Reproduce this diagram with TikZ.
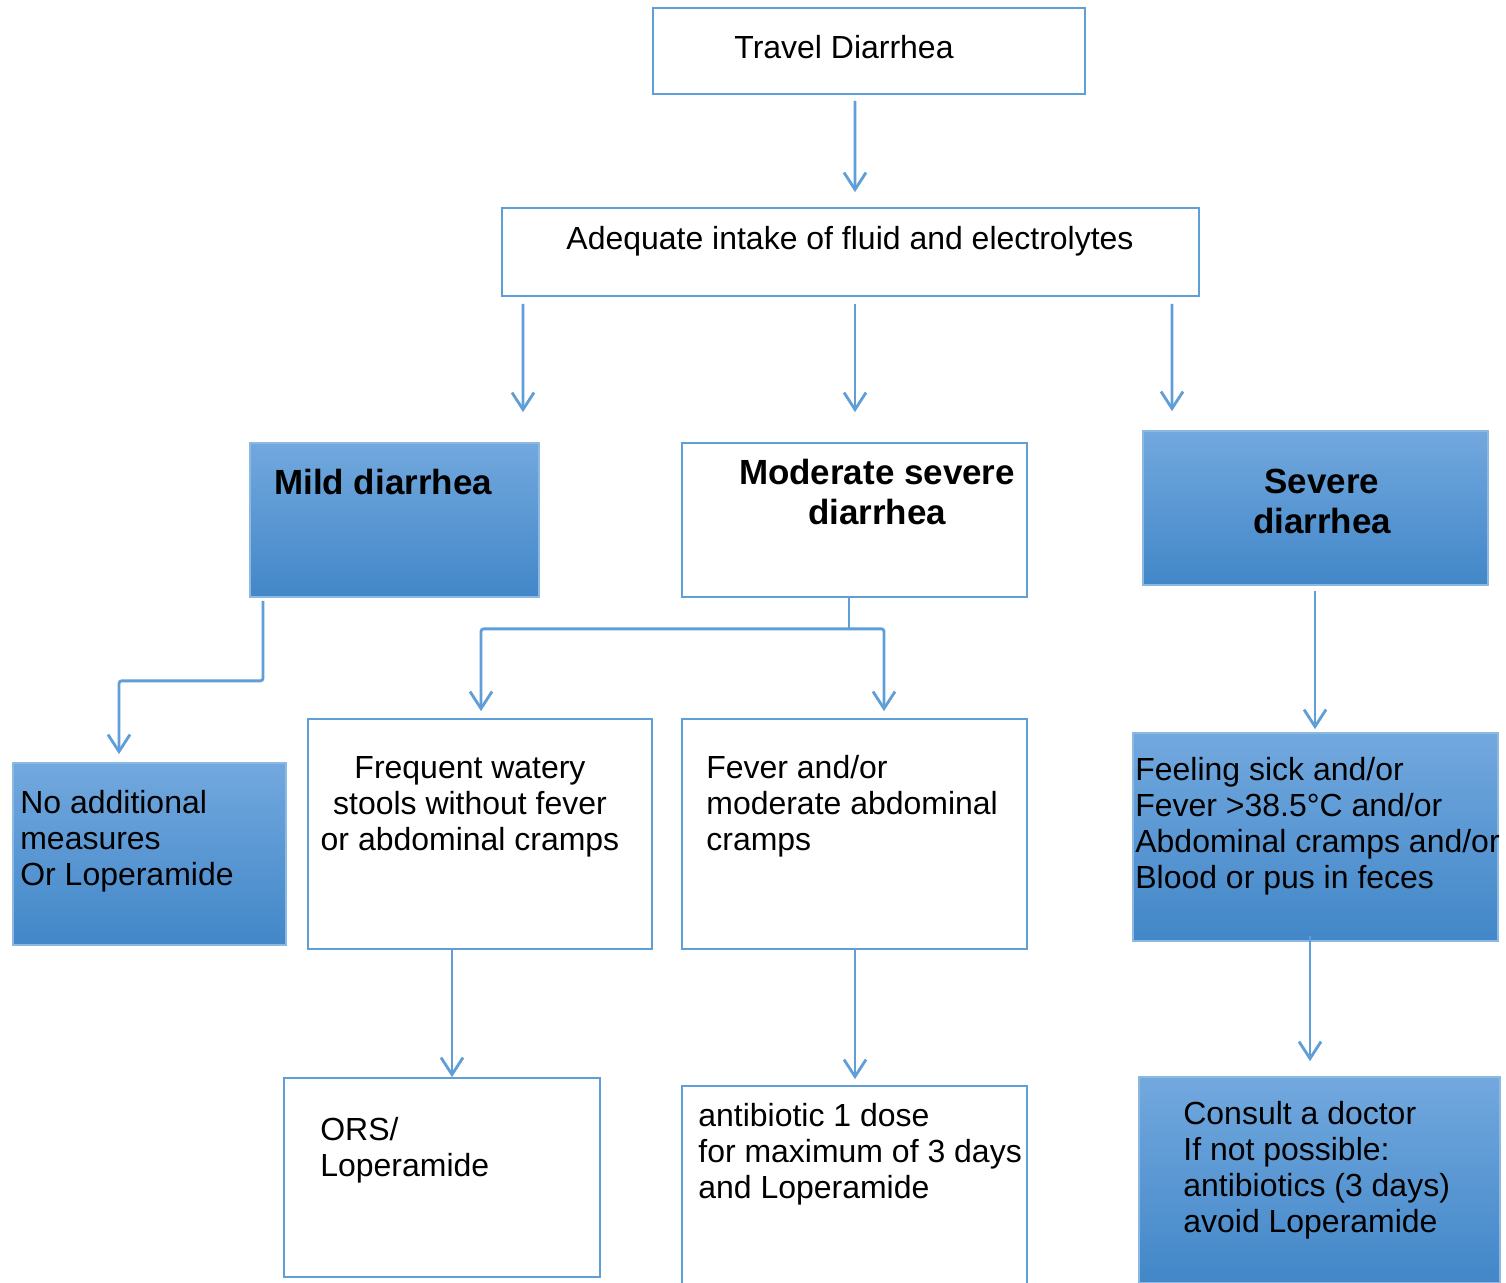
\documentclass[tikz,border=0pt]{standalone}
\usepackage{fontspec}
\setmainfont{Liberation Sans}
\usetikzlibrary{arrows.meta,calc}
\definecolor{lnblue}{RGB}{96,158,215}
\definecolor{bxtop}{RGB}{114,168,222}
\definecolor{bxbot}{RGB}{66,135,200}
\definecolor{bxedge}{RGB}{140,185,228}
\begin{document}
\begin{tikzpicture}[x=0.02cm,y=-0.02cm,
 wbox/.style={draw=lnblue,line width=1pt,fill=white,inner sep=0pt},
 bbox/.style={draw=bxedge,line width=1pt,top color=bxtop,bottom color=bxbot,inner sep=0pt},
 txt/.style={inner sep=0pt,font=\fontsize{18.2}{20.5}\selectfont,align=left},
 ctxt/.style={txt,align=center},
 btxt/.style={inner sep=0pt,font=\fontsize{19.9}{22.8}\selectfont\bfseries,align=center},
 arr/.style={draw=lnblue,line width=1.6pt,-{Straight Barb[length=0.34cm,width=0.44cm,line width=1.6pt]}},
 ln/.style={draw=lnblue,line width=1.6pt}]
\useasboundingbox (0,0) rectangle (1506,1283);
\fill[white] (0,0) rectangle (1506,1283);

% boxes
\node[wbox,minimum width=8.64cm,minimum height=1.72cm] (travel) at (869,51) {};
\node[wbox,minimum width=13.94cm,minimum height=1.76cm] (adequate) at (850.5,252) {};
\node[bbox,minimum width=5.78cm,minimum height=3.08cm] (mild) at (394.5,520) {};
\node[wbox,minimum width=6.9cm,minimum height=3.08cm] (moderate) at (854.5,520) {};
\node[bbox,minimum width=6.9cm,minimum height=3.08cm] (severe) at (1315.5,508) {};
\node[bbox,minimum width=5.46cm,minimum height=3.64cm] (noadd) at (149.5,854) {};
\node[wbox,minimum width=6.88cm,minimum height=4.6cm] (frequent) at (480,834) {};
\node[wbox,minimum width=6.9cm,minimum height=4.6cm] (fever) at (854.5,834) {};
\node[bbox,minimum width=7.3cm,minimum height=4.16cm] (feeling) at (1315.5,837) {};
\node[wbox,minimum width=6.32cm,minimum height=3.98cm] (ors) at (442,1177.5) {};
\node[wbox,minimum width=6.9cm,minimum height=4.28cm] (antib) at (854.5,1193) {};
\node[bbox,minimum width=7.22cm,minimum height=4.12cm] (consult) at (1319.5,1180) {};

% texts
\node[txt,anchor=north] (travelT) at (844,35) {Travel Diarrhea};
\node[txt,anchor=north] (adequateT) at (850,226) {Adequate intake of fluid and electrolytes};
\node[btxt,anchor=north west] (mildT) at (274,469) {Mild diarrhea};
\node[btxt,anchor=north] (moderateT) at (877,459) {Moderate severe\\diarrhea};
\node[btxt,anchor=north] (severeT) at (1322,469) {Severe\\diarrhea};
\node[txt,anchor=north west] (noaddT) at (20,790) {No additional\\measures\\Or Loperamide};
\node[ctxt,anchor=north] (frequentT) at (470,756) {Frequent watery\\stools without fever\\or abdominal cramps};
\node[txt,anchor=north west] (feverT) at (706,755) {Fever and/or\\moderate abdominal\\cramps};
\node[txt,anchor=north west] (feelingT) at (1135,757) {Feeling sick and/or\\Fever >38.5°C and/or\\Abdominal cramps and/or\\Blood or pus in feces};
\node[txt,anchor=north west] (orsT) at (320,1117) {ORS/\\Loperamide};
\node[txt,anchor=north west] (antibT) at (698,1103) {antibiotic 1 dose\\for maximum of 3 days\\and Loperamide};
\node[txt,anchor=north west] (consultT) at (1183,1101) {Consult a doctor\\If not possible:\\antibiotics (3 days)\\avoid Loperamide};

% connectors
\draw[arr] ($(travel.south)+(-14,6)$) -- ($(adequate.north)+(4.5,-15)$);
\draw[arr] ($(adequate.south)+(-327.5,7)$) -- ($(mild.north)+(128.5,-30)$);
\draw[arr] ($(adequate.south)+(4.5,7)$) -- ($(moderate.north)+(0.5,-30)$);
\draw[arr] ($(adequate.south)+(321.5,7)$) -- ($(severe.north)+(-143.5,-19)$);
\draw[arr,rounded corners=1.5pt] ($(mild.south)+(-131.5,3)$) -- ++(0,80) -| ($(noadd.north)+(-30.5,-8)$);
\draw[ln] ($(moderate.south)+(-5.5,0)$) coordinate (split0) -- ++(0,31) coordinate (split);
\draw[arr,rounded corners=1.5pt] (split) -| ($(frequent.north)+(1,-7)$);
\draw[arr,rounded corners=1.5pt] (split) -| ($(fever.north)+(29.5,-7)$);
\draw[arr] ($(severe.south)+(-0.5,5)$) -- ($(feeling.north)+(-0.5,-3)$);
\draw[arr] ($(frequent.south)+(-28,0)$) -- ($(ors.north)+(10,0)$);
\draw[arr] ($(fever.south)+(0.5,0)$) -- ($(antib.north)+(0.5,-6)$);
\draw[arr] ($(feeling.south)+(-5.5,-6)$) -- ($(consult.north)+(-9.5,-15)$);
\end{tikzpicture}
\end{document}
